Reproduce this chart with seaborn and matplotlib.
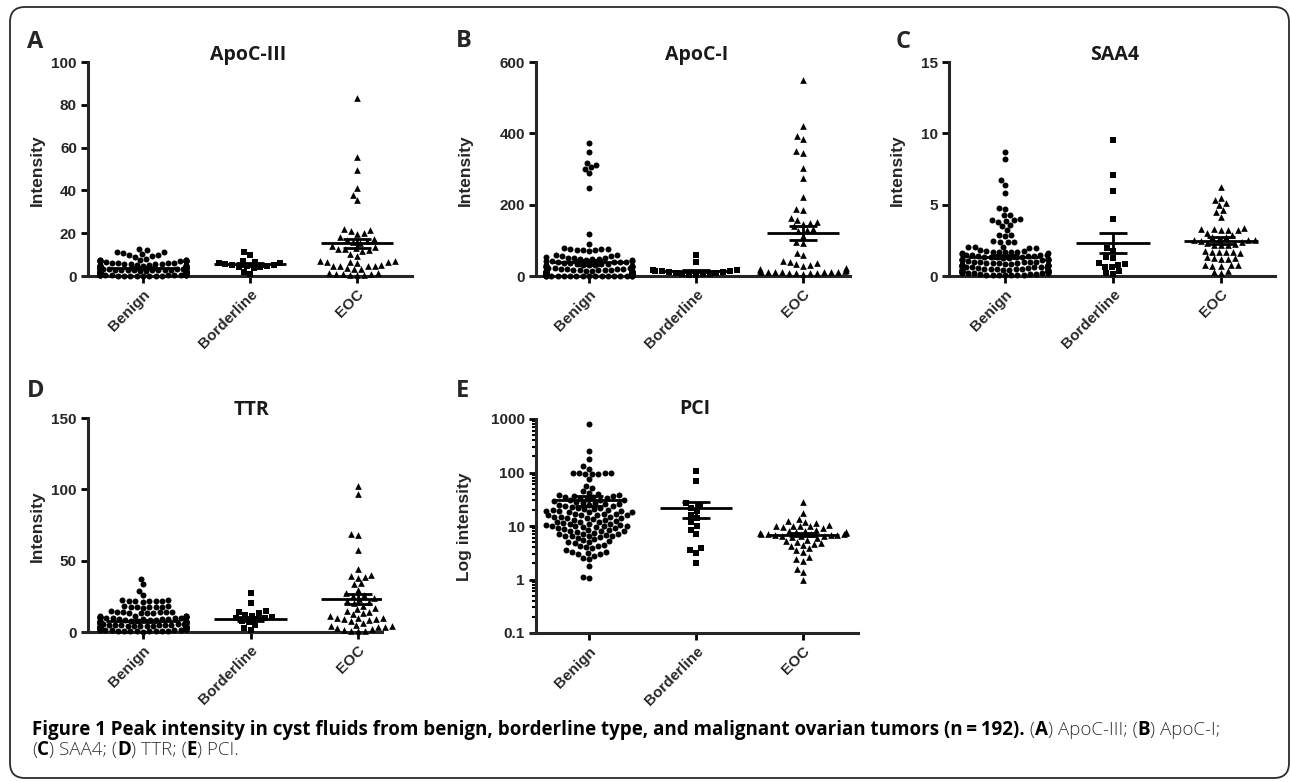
import numpy as np
import pandas as pd
import matplotlib.pyplot as plt
import seaborn as sns
from matplotlib.patches import FancyBboxPatch
from matplotlib.font_manager import FontProperties
from matplotlib.ticker import FixedLocator, LogLocator, NullFormatter

sns.set_theme(style="ticks")
plt.rcParams['font.family'] = ['Liberation Sans', 'DejaVu Sans']
plt.rcParams['font.weight'] = 'bold'

W, H = 1290, 782

groups = ["Benign", "Borderline", "EOC"]
markers = ["o", "s", "^"]
marker_sizes = [4.3, 4.7, 4.8]

# ---- A: ApoC-III ----
benign_a = [12.6, 12.1, 11.2, 11.0, 10.6, 10.2, 9.9, 9.6, 9.2, 8.9,
            8.1, 7.6, 7.5, 7.4, 7.6, 7.1, 7.0, 6.9, 7.2, 7.0, 6.8, 7.1, 7.3, 6.9, 7.0,
            6.5, 6.1, 6.0, 5.9, 6.2, 5.6, 5.4, 5.5, 5.7, 5.0, 5.1, 4.9, 5.2, 4.8, 5.0,
            4.6, 4.5, 4.4, 4.5, 4.7, 4.3, 4.0, 4.1, 3.9, 4.0, 4.2, 3.8, 4.0, 4.1,
            3.5, 3.6, 3.4, 3.5, 3.7, 3.3, 3.5, 3.6, 3.0, 3.1, 2.9, 3.0, 3.2, 2.8, 3.0, 3.1,
            2.5, 2.6, 2.4, 2.5, 2.7, 2.3, 2.5, 2.6, 2.0, 2.1, 1.9, 2.0, 2.2, 1.8, 2.0, 2.1, 1.9, 2.0,
            1.5, 1.6, 1.4, 1.5, 1.7, 1.3, 1.5, 1.6, 1.4, 1.5, 1.0, 1.1, 0.9, 1.0, 1.2, 0.8, 1.0, 1.1, 0.9, 1.0,
            0.5, 0.6, 0.4, 0.5, 0.7, 0.3, 0.5, 0.6, 0.4, 0.5, 0.2, 0.3, 0.1, 0.2, 0.2, 0.1, 0.3, 0.2, 0.1, 0.2]
borderline_a = [11.2, 9.6, 7.1, 6.6, 6.2, 5.9, 5.6, 5.3, 5.0, 4.8, 4.5, 4.2, 4.0, 3.6, 2.0, 1.0]
eoc_a = [83.0, 55.5, 49.5, 41.0, 38.0, 35.5, 22.0, 21.5, 21.0, 20.0, 19.5, 18.0, 17.5, 17.0, 16.5, 16.0,
         15.5, 14.0, 13.5, 13.0, 12.5, 12.5, 12.0, 11.5, 10.5, 9.5, 7.0, 6.8, 6.6, 6.5, 6.4, 6.2,
         5.0, 4.9, 4.8, 4.6, 4.5, 3.8, 3.5, 3.3, 1.5, 1.2, 1.0, 0.9, 0.8, 0.7, 0.6, 0.5]
means_a = [3.7, 5.4, 15.2]
sems_a = [0.35, 0.55, 2.2]

# ---- B: ApoC-I ----
benign_b = [372, 348, 318, 312, 305, 300, 288, 246, 117, 89,
            78, 77, 76, 75, 74, 73, 72, 71, 60, 58, 57, 56,
            52, 51, 50, 50, 49, 48, 47, 45, 44, 43, 42, 41, 40, 40, 39, 38, 37, 36,
            35, 34, 33, 32, 31, 30, 30, 29, 28, 27, 26, 25, 25, 24, 23, 22, 22, 21, 20, 20,
            19, 18, 18, 17, 16, 16, 15, 15, 14, 14, 13, 13, 12, 12, 11, 11, 10, 10, 10, 9,
            9, 9, 8, 8, 8, 7, 7, 7, 6, 6, 6, 6, 5, 5, 5, 5, 4, 4, 4, 4,
            3, 3, 3, 3, 3, 2, 2, 2, 2, 2, 2, 1, 1, 1, 1, 1, 1, 1, 1, 1,
            1, 1, 0.5, 0.5, 0.5, 0.5, 0.5, 0.5]
borderline_b = [60, 38, 18, 16, 15, 14, 13, 12, 11, 9, 8, 7, 6, 5, 4, 3]
eoc_b = [550, 420, 392, 385, 350, 346, 302, 276, 222, 187, 185, 162, 158, 152, 150, 147,
         140, 132, 128, 126, 112, 95, 92, 65, 58, 42, 40, 36, 33, 30, 28, 22,
         20, 18, 15, 13, 12, 12, 11, 11, 10, 10, 10, 9, 9, 8, 8, 7]
means_b = [38, 14, 121]
sems_b = [8, 3, 19]

# ---- C: SAA4 ----
benign_c = [8.7, 8.2, 6.7, 6.4, 5.8, 4.75, 4.7, 4.3, 4.25, 4.0,
            3.95, 3.9, 3.85, 3.8, 3.55, 3.5, 3.2, 2.9, 2.85, 2.8,
            2.45, 2.4, 2.4, 2.35, 2.05, 2.0, 2.0, 1.95, 1.95, 1.8,
            1.75, 1.75, 1.7, 1.7, 1.7, 1.65, 1.65, 1.6, 1.6, 1.55,
            1.5, 1.5, 1.45, 1.45, 1.4, 1.4, 1.4, 1.35, 1.35, 1.3,
            1.3, 1.25, 1.25, 1.2, 1.2, 1.15, 1.15, 1.1, 1.1, 1.05,
            1.0, 1.0, 0.95, 0.95, 0.9, 0.9, 0.9, 0.85, 0.85, 0.8,
            0.8, 0.8, 0.75, 0.75, 0.7, 0.7, 0.7, 0.65, 0.65, 0.6,
            0.6, 0.6, 0.55, 0.55, 0.5, 0.5, 0.5, 0.5, 0.45, 0.45,
            0.4, 0.4, 0.4, 0.4, 0.35, 0.35, 0.3, 0.3, 0.3, 0.3,
            0.25, 0.25, 0.2, 0.2, 0.2, 0.2, 0.15, 0.15, 0.15, 0.1,
            0.1, 0.1, 0.1, 0.05, 0.05, 0.05, 0.3, 0.5, 0.7, 0.9,
            1.1, 1.3, 0.2, 0.4, 0.6, 0.8, 1.0, 1.2]
borderline_c = [9.55, 7.1, 5.95, 4.0, 1.95, 1.75, 1.3, 1.25, 0.9, 0.85, 0.8, 0.65, 0.6, 0.35, 0.2, 0.15]
eoc_c = [6.25, 5.5, 5.35, 5.1, 5.0, 4.6, 4.5, 4.15, 3.35, 3.3, 3.3, 3.25, 3.2, 3.2, 3.0, 2.9,
         2.75, 2.7, 2.6, 2.55, 2.5, 2.5, 2.45, 2.4, 2.3, 2.25, 2.2, 2.2, 2.15, 1.75, 1.7, 1.7,
         1.7, 1.65, 1.6, 1.3, 1.25, 1.25, 1.2, 1.2, 0.8, 0.75, 0.75, 0.7, 0.7, 0.35, 0.25, 0.2]
means_c = [1.35, 2.3, 2.47]
sems_c = [0.12, 0.72, 0.24]

# ---- D: TTR ----
benign_d = [37.5, 33.5, 29.0, 26.0, 22.5, 22.2, 22.0, 22.0, 21.8, 21.5, 21.5, 21.2,
            18.0, 18.0, 17.8, 17.8, 17.5, 17.5, 17.2, 17.0, 14.5, 14.2, 14.0, 14.0, 13.8, 13.8, 13.5, 13.5, 13.2, 13.0,
            11.5, 11.2, 11.0, 11.0, 10.8, 10.8, 10.5, 10.5, 10.2, 10.2, 10.0, 10.0, 9.8, 9.5, 9.5, 9.2, 9.0, 9.0,
            8.8, 8.5, 8.5, 8.2, 8.0, 8.0, 7.8, 7.5, 7.5, 7.2, 7.0, 7.0, 6.8, 6.5, 6.5, 6.2, 6.0, 6.0,
            5.8, 5.5, 5.5, 5.2, 5.0, 5.0, 4.8, 4.5, 4.5, 4.2, 4.0, 4.0, 3.8, 3.5, 3.5, 3.2, 3.0, 3.0,
            2.8, 2.5, 2.5, 2.2, 2.0, 2.0, 1.8, 1.5, 1.5, 1.2, 1.0, 1.0, 0.8, 0.5, 0.5, 0.2,
            6.0, 5.5, 5.0, 4.5, 4.0, 3.5, 3.0, 2.5, 2.0, 1.5, 1.0, 0.5,
            7.5, 7.0, 6.5, 3.8, 3.2, 2.8, 2.2, 1.8, 1.2, 0.8, 4.2, 4.8]
borderline_d = [27.0, 20.0, 14.5, 14.0, 13.5, 12.0, 11.0, 10.5, 10.0, 9.5, 9.0, 8.0, 7.0, 5.0, 3.0, 1.5]
eoc_d = [102, 97, 69, 68, 57.5, 44, 40, 39, 38.5, 38, 34, 33.5, 29.5, 27, 26, 25,
         24, 23, 22, 21, 20, 18.5, 17, 16, 15, 14, 13, 12.5, 11, 10, 9.5, 9.5,
         9, 9, 8.5, 8, 6, 5, 4, 4, 3.5, 3.5, 3, 2, 1.5, 1, 1, 0.5]
means_d = [7.7, 9.0, 23.0]
sems_d = [0.7, 1.5, 3.4]

# ---- E: PCI ----
benign_e = [800, 250, 180, 130, 118, 100, 98, 97, 96, 95, 94, 92, 75, 57, 52,
            45, 42, 40, 38, 38, 37, 36, 35, 34, 33, 32, 31, 30, 30, 29,
            28, 27, 27, 26, 25, 25, 24, 24, 23, 22, 22, 21, 21, 20, 20,
            19, 19, 18, 18, 18, 17, 17, 17, 16, 16, 16, 15, 15, 15, 14,
            14, 14, 13.5, 13, 13, 12.5, 12, 12, 11.5, 11, 11, 11, 10.5, 10.5, 10,
            10, 10, 10, 9.5, 9.5, 9, 9, 8.8, 8.5, 8.5, 8.2, 8, 8, 7.8, 7.5,
            7.2, 7, 7, 6.8, 6.6, 6.5, 6.5, 6.4, 6.2, 6, 5.8, 5.5, 5.2, 5, 5,
            4.8, 4.5, 4.2, 4.2, 4, 3.8, 3.5, 3.3, 3.2, 3.1, 3, 3, 2.8, 2.5, 2.4, 1.8, 1.12, 1.05,
            35, 26, 19, 12, 16]
borderline_e = [108, 68, 27, 24, 22, 19, 16, 14, 12, 10, 8.5, 7, 3.8, 3.6, 3.1, 2.0]
eoc_e = [28, 17.5, 13.5, 12.5, 12, 11.5, 10.5, 10.2, 10, 10, 9.8, 9.5, 9, 8.5, 8.2, 8,
         7.8, 7.6, 7.4, 7.3, 7.2, 7.1, 7, 7, 6.9, 6.8, 6.7, 6.6, 6.5, 6.4, 6.2, 6,
         5.5, 5.2, 5, 4.8, 4.6, 4.4, 4.2, 3.8, 3.5, 3.3, 2.6, 2.4, 2.2, 1.6, 1.4, 1.0]
means_e = [30, 21.4, 6.9]
sems_e = [6, 7, 0.5]

# panel setup: rect is (left, top, right, bottom) in pixels, cats = pixel x of first/last category
panels = [
    dict(letter="A", title="ApoC-III", ylabel="Intensity", data=[benign_a, borderline_a, eoc_a],
         means=means_a, sems=sems_a, ylim=(0, 100), yticks=[0, 20, 40, 60, 80, 100], log=False,
         rect=(83, 62, 412, 276), cats=(143, 357), letter_xy=(27, 48), title_xy=(248, 60), ylab_xy=(37, 170)),
    dict(letter="B", title="ApoC-I", ylabel="Intensity", data=[benign_b, borderline_b, eoc_b],
         means=means_b, sems=sems_b, ylim=(0, 600), yticks=[0, 200, 400, 600], log=False,
         rect=(531, 62, 850, 276), cats=(589, 803), letter_xy=(456, 47), title_xy=(697, 60), ylab_xy=(465, 170)),
    dict(letter="C", title="SAA4", ylabel="Intensity", data=[benign_c, borderline_c, eoc_c],
         means=means_c, sems=sems_c, ylim=(0, 15), yticks=[0, 5, 10, 15], log=False,
         rect=(944, 62, 1275, 276), cats=(1005, 1221), letter_xy=(896, 48), title_xy=(1115, 60), ylab_xy=(897, 170)),
    dict(letter="D", title="TTR", ylabel="Intensity", data=[benign_d, borderline_d, eoc_d],
         means=means_d, sems=sems_d, ylim=(0, 150), yticks=[0, 50, 100, 150], log=False,
         rect=(83, 418, 382, 632), cats=(143, 358), letter_xy=(27, 397), title_xy=(252, 415), ylab_xy=(37, 526)),
    dict(letter="E", title="PCI", ylabel="Log intensity", data=[benign_e, borderline_e, eoc_e],
         means=means_e, sems=sems_e, ylim=(0.1, 1000), yticks=[0.1, 1, 10, 100, 1000], log=True,
         rect=(531, 419, 858, 633), cats=(589, 803), letter_xy=(456, 397), title_xy=(695, 414), ylab_xy=(465, 527)),
]


def fx(x):
    return x / W


def fy(y):
    return 1 - y / H


fig = plt.figure(figsize=(12.9, 7.82), dpi=100)

for p in panels:
    l, t, r, b = p["rect"]
    ax = fig.add_axes([fx(l), fy(b), (r - l) / W, (b - t) / H])
    if p["log"]:
        ax.set_yscale("log")

    n = [len(v) for v in p["data"]]
    df = pd.DataFrame({"group": np.repeat(groups, n),
                       "value": np.concatenate([np.asarray(v, float) for v in p["data"]])})

    for g, mk, sz in zip(groups, markers, marker_sizes):
        sns.swarmplot(data=df[df["group"] == g], x="group", y="value", order=groups,
                      marker=mk, size=sz, color="black", linewidth=0, ax=ax,
                      warn_thresh=1, clip_on=False, zorder=3)

    # mean +/- SEM
    for i, (m, s) in enumerate(zip(p["means"], p["sems"])):
        ax.hlines(m, i - 0.34, i + 0.34, color="black", lw=2.0, zorder=5)
        ax.hlines([m - s, m + s], i - 0.13, i + 0.13, color="black", lw=2.0, zorder=5)
        ax.vlines(i, m - s, m + s, color="black", lw=2.0, zorder=5)

    c0, c2 = p["cats"]
    step = (c2 - c0) / 2
    ax.set_xlim((l - c0) / step, (r - c0) / step)
    ax.set_ylim(*p["ylim"])
    ax.spines["left"].set_position(("data", (l + 5 - c0) / step))
    for side in ["top", "right"]:
        ax.spines[side].set_visible(False)
    ax.spines["left"].set_linewidth(2.2)
    ax.spines["bottom"].set_linewidth(2.2)
    ax.spines["left"].set_bounds(*p["ylim"])

    ax.set_xticks([0, 1, 2])
    ax.set_xticklabels(groups, rotation=45, ha="right", va="top", rotation_mode="anchor",
                       fontsize=11.2, fontweight="bold")
    ax.yaxis.set_major_locator(FixedLocator(p["yticks"]))
    if p["log"]:
        ax.set_yticklabels(["0.1", "1", "10", "100", "1000"])
        ax.yaxis.set_minor_locator(LogLocator(base=10, subs=np.arange(2, 10)))
        ax.yaxis.set_minor_formatter(NullFormatter())
        ax.tick_params(axis="y", which="minor", length=3, width=1.5, color="black")
    ax.tick_params(axis="both", which="major", length=5, width=2, color="black",
                   labelsize=11, pad=3)
    ax.set_xlabel("")
    ax.set_ylabel("")
    ax.patch.set_alpha(0)

    fig.text(fx(p["letter_xy"][0]), fy(p["letter_xy"][1]), p["letter"], fontsize=17,
             fontweight="bold", family=["Open Sans", "DejaVu Sans"], va="baseline", ha="left")
    fig.text(fx(p["title_xy"][0]), fy(p["title_xy"][1]), p["title"], fontsize=14,
             fontweight="bold", family=["Open Sans", "DejaVu Sans"], va="baseline", ha="center",
             color="#1a1a1a")
    fig.text(fx(p["ylab_xy"][0]), fy(p["ylab_xy"][1]), p["ylabel"], fontsize=12.5,
             fontweight="bold", rotation=90, va="center", ha="center")

# rounded frame around the figure
frame = FancyBboxPatch((0.10, 0.04), 12.79, 7.71, boxstyle="round,pad=0,rounding_size=0.15",
                       transform=fig.dpi_scale_trans, fill=False, lw=1.3, edgecolor="#2b2b2b")
fig.add_artist(frame)

# caption with mixed weights
renderer = fig.canvas.get_renderer()


def caption_line(parts, x_px, y_px, size=13.5):
    x = x_px
    for txt, weight in parts:
        prop = FontProperties(family=["Open Sans", "DejaVu Sans"], weight=weight, size=size)
        fig.text(fx(x), fy(y_px), txt, fontproperties=prop, va="baseline", ha="left",
                 color="black" if weight == "bold" else "#333333")
        w_full = renderer.get_text_width_height_descent("H" + txt + "H", prop, ismath=False)[0]
        w_hh = renderer.get_text_width_height_descent("HH", prop, ismath=False)[0]
        x += w_full - w_hh


caption_line([("Figure 1 Peak intensity in cyst fluids from benign, borderline type, and malignant "
               "ovarian tumors (n\u2009=\u2009192).", "bold"),
              (" (", "light"), ("A", "bold"), (") ApoC-III; (", "light"), ("B", "bold"),
              (") ApoC-I;", "light")], 32, 735)
caption_line([("(", "light"), ("C", "bold"), (") SAA4; (", "light"), ("D", "bold"),
              (") TTR; (", "light"), ("E", "bold"), (") PCI.", "light")], 32, 755)

fig.savefig("out.png", dpi=100)
